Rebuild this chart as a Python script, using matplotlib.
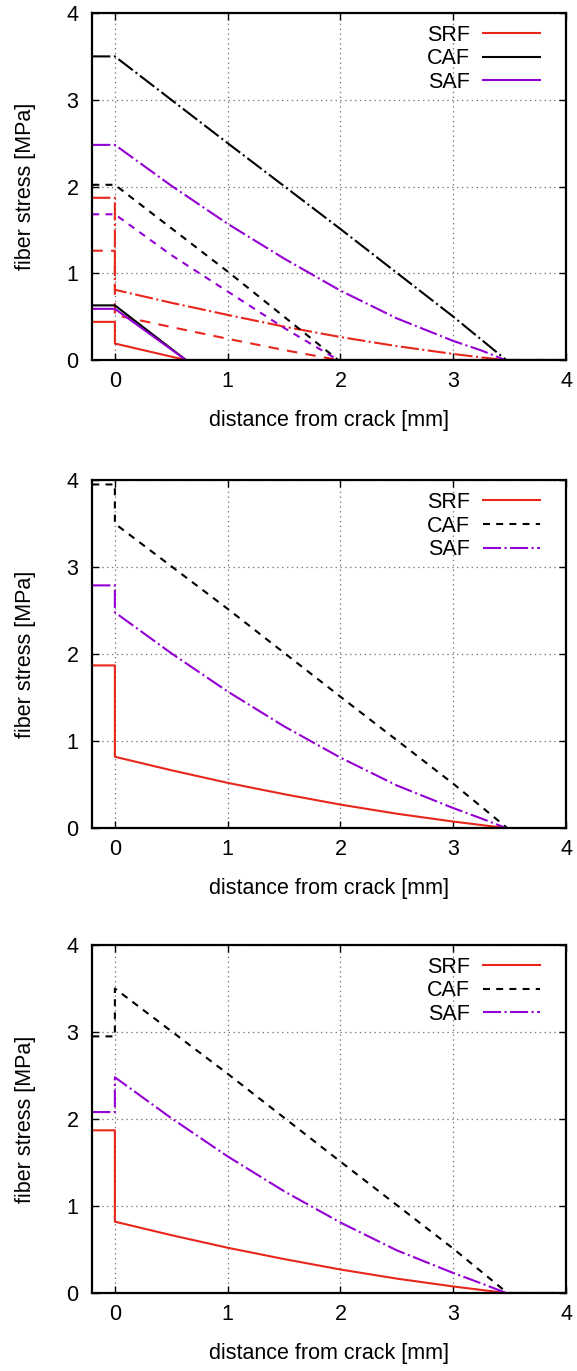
import matplotlib
matplotlib.use('Agg')
import matplotlib.pyplot as plt

plt.rcParams['font.family'] = ['Liberation Sans', 'DejaVu Sans']
plt.rcParams['font.size'] = 15.5
plt.rcParams['lines.scale_dashes'] = False

ROJO = '#e8261c'
NEGRO = 'black'
VIOLETA = '#9400d3'

# --- Panel superior: tres longitudes de anclaje por tipo de fibra ---
# curvas cortas (lineas continuas)
x_srf_corta = [-0.2, 0.0, 0.0, 0.63, 4.0]
y_srf_corta = [0.44, 0.44, 0.19, 0.0, 0.0]
x_caf_corta = [-0.2, 0.0, 0.63, 4.0]
y_caf_corta = [0.63, 0.63, 0.0, 0.0]
x_saf_corta = [-0.2, 0.0, 0.63, 4.0]
y_saf_corta = [0.59, 0.59, 0.0, 0.0]

# curvas intermedias (discontinuas)
x_srf_media = [-0.2, 0.0, 0.0, 0.5, 1.0, 1.5, 1.98, 4.0]
y_srf_media = [1.26, 1.26, 0.52, 0.38, 0.245, 0.115, 0.0, 0.0]
x_caf_media = [-0.2, 0.0, 1.0, 1.98, 4.0]
y_caf_media = [2.02, 2.02, 1.02, 0.0, 0.0]
x_saf_media = [-0.2, 0.0, 0.5, 1.0, 1.5, 1.98, 4.0]
y_saf_media = [1.68, 1.68, 1.21, 0.79, 0.37, 0.0, 0.0]

# curvas largas (punto y raya)
x_srf_larga = [-0.2, 0.0, 0.0, 0.5, 1.0, 1.5, 2.0, 2.5, 3.0, 3.25, 3.46, 4.0]
y_srf_larga = [1.87, 1.87, 0.81, 0.66, 0.52, 0.385, 0.265, 0.16, 0.07, 0.03, 0.0, 0.0]
x_caf_larga = [-0.2, 0.0, 1.0, 2.0, 3.0, 3.47, 4.0]
y_caf_larga = [3.5, 3.5, 2.5, 1.51, 0.5, 0.0, 0.0]
x_saf_larga = [-0.2, 0.0, 0.5, 1.0, 1.5, 2.0, 2.5, 3.0, 3.25, 3.46, 4.0]
y_saf_larga = [2.48, 2.48, 2.01, 1.57, 1.17, 0.8, 0.48, 0.22, 0.11, 0.0, 0.0]

# --- Panel central ---
x_srf_2 = [-0.2, 0.0, 0.0, 0.5, 1.0, 1.5, 2.0, 2.5, 3.0, 3.25, 3.47, 4.0]
y_srf_2 = [1.87, 1.87, 0.82, 0.665, 0.52, 0.39, 0.27, 0.165, 0.075, 0.035, 0.0, 0.0]
x_caf_2 = [-0.2, 0.0, 0.0, 1.0, 2.0, 3.0, 3.48, 4.0]
y_caf_2 = [3.95, 3.95, 3.5, 2.52, 1.51, 0.51, 0.0, 0.0]
x_saf_2 = [-0.2, 0.0, 0.0, 0.5, 1.0, 1.5, 2.0, 2.5, 3.0, 3.25, 3.47, 4.0]
y_saf_2 = [2.79, 2.79, 2.48, 2.01, 1.57, 1.17, 0.81, 0.49, 0.23, 0.11, 0.0, 0.0]

# --- Panel inferior ---
x_srf_3 = [-0.2, 0.0, 0.0, 0.5, 1.0, 1.5, 2.0, 2.5, 3.0, 3.25, 3.47, 4.0]
y_srf_3 = [1.87, 1.87, 0.82, 0.665, 0.52, 0.39, 0.27, 0.165, 0.075, 0.035, 0.0, 0.0]
x_caf_3 = [-0.2, 0.0, 0.0, 1.0, 2.0, 3.0, 3.48, 4.0]
y_caf_3 = [2.95, 2.95, 3.5, 2.52, 1.51, 0.51, 0.0, 0.0]
x_saf_3 = [-0.2, 0.0, 0.0, 0.5, 1.0, 1.5, 2.0, 2.5, 3.0, 3.25, 3.47, 4.0]
y_saf_3 = [2.08, 2.08, 2.48, 2.01, 1.57, 1.17, 0.81, 0.49, 0.23, 0.11, 0.0, 0.0]

xticks = [0, 1, 2, 3, 4]
yticks = [0, 1, 2, 3, 4]

SOLIDA = '-'
RAYAS = (0, (7.5, 6))
RAYAS_CORTAS = (0, (5, 4.5))
PUNTO_RAYA = (0, (13, 2.5, 1.5, 2.5))
LW = 1.5

fig = plt.figure(figsize=(5.77, 13.71), dpi=100)
posiciones = [
    [0.160, 0.7374, 0.821, 0.2531],
    [0.160, 0.3960, 0.821, 0.2538],
    [0.160, 0.0569, 0.821, 0.2538],
]
axes = [fig.add_axes(p) for p in posiciones]


def preparar(ax):
    ax.set_xlim(-0.2, 4)
    ax.set_ylim(0, 4)
    ax.set_xticks(xticks)
    ax.set_yticks(yticks)
    ax.tick_params(direction='in', top=True, right=True, length=5, width=1,
                   labelsize=15.5)
    ax.tick_params(axis='x', pad=8)
    ax.tick_params(axis='y', pad=10)
    for s in ax.spines.values():
        s.set_linewidth(1.6)
    ax.grid(True, color='#777777', linestyle=(0, (1, 2.5)), linewidth=0.9)
    ax.set_axisbelow(True)
    ax.set_xlabel('distance from crack [mm]', fontsize=15.5, labelpad=13)
    ax.set_ylabel('fiber stress [MPa]', fontsize=15.5, labelpad=22)


def leyenda(ax, lineas, textos):
    ax.legend(lineas, textos, loc='upper right', bbox_to_anchor=(0.945, 0.966),
              frameon=False, markerfirst=False, handlelength=2.65,
              handletextpad=0.6, labelspacing=0.12, borderpad=0,
              borderaxespad=0, fontsize=15.5)


# Panel superior
ax = axes[0]
preparar(ax)
ax.plot(x_srf_larga, y_srf_larga, color=ROJO, ls=PUNTO_RAYA, lw=LW)
ax.plot(x_caf_larga, y_caf_larga, color=NEGRO, ls=PUNTO_RAYA, lw=LW)
ax.plot(x_saf_larga, y_saf_larga, color=VIOLETA, ls=PUNTO_RAYA, lw=LW)
ax.plot(x_srf_media, y_srf_media, color=ROJO, ls=RAYAS, lw=LW)
ax.plot(x_caf_media, y_caf_media, color=NEGRO, ls=RAYAS_CORTAS, lw=LW)
ax.plot(x_saf_media, y_saf_media, color=VIOLETA, ls=RAYAS_CORTAS, lw=LW)
l1, = ax.plot(x_srf_corta, y_srf_corta, color=ROJO, ls=SOLIDA, lw=LW)
l2, = ax.plot(x_caf_corta, y_caf_corta, color=NEGRO, ls=SOLIDA, lw=LW)
l3, = ax.plot(x_saf_corta, y_saf_corta, color=VIOLETA, ls=SOLIDA, lw=LW)
leyenda(ax, [l1, l2, l3], ['SRF', 'CAF', 'SAF'])

# Paneles central e inferior
datos = [
    (x_srf_2, y_srf_2, x_caf_2, y_caf_2, x_saf_2, y_saf_2),
    (x_srf_3, y_srf_3, x_caf_3, y_caf_3, x_saf_3, y_saf_3),
]
for ax, (xs, ys, xc, yc, xa, ya) in zip(axes[1:], datos):
    preparar(ax)
    l1, = ax.plot(xs, ys, color=ROJO, ls=SOLIDA, lw=LW)
    l2, = ax.plot(xc, yc, color=NEGRO, ls=RAYAS_CORTAS, lw=LW)
    l3, = ax.plot(xa, ya, color=VIOLETA, ls=PUNTO_RAYA, lw=LW)
    leyenda(ax, [l1, l2, l3], ['SRF', 'CAF', 'SAF'])

plt.savefig('out.png', dpi=100)
plt.close()
